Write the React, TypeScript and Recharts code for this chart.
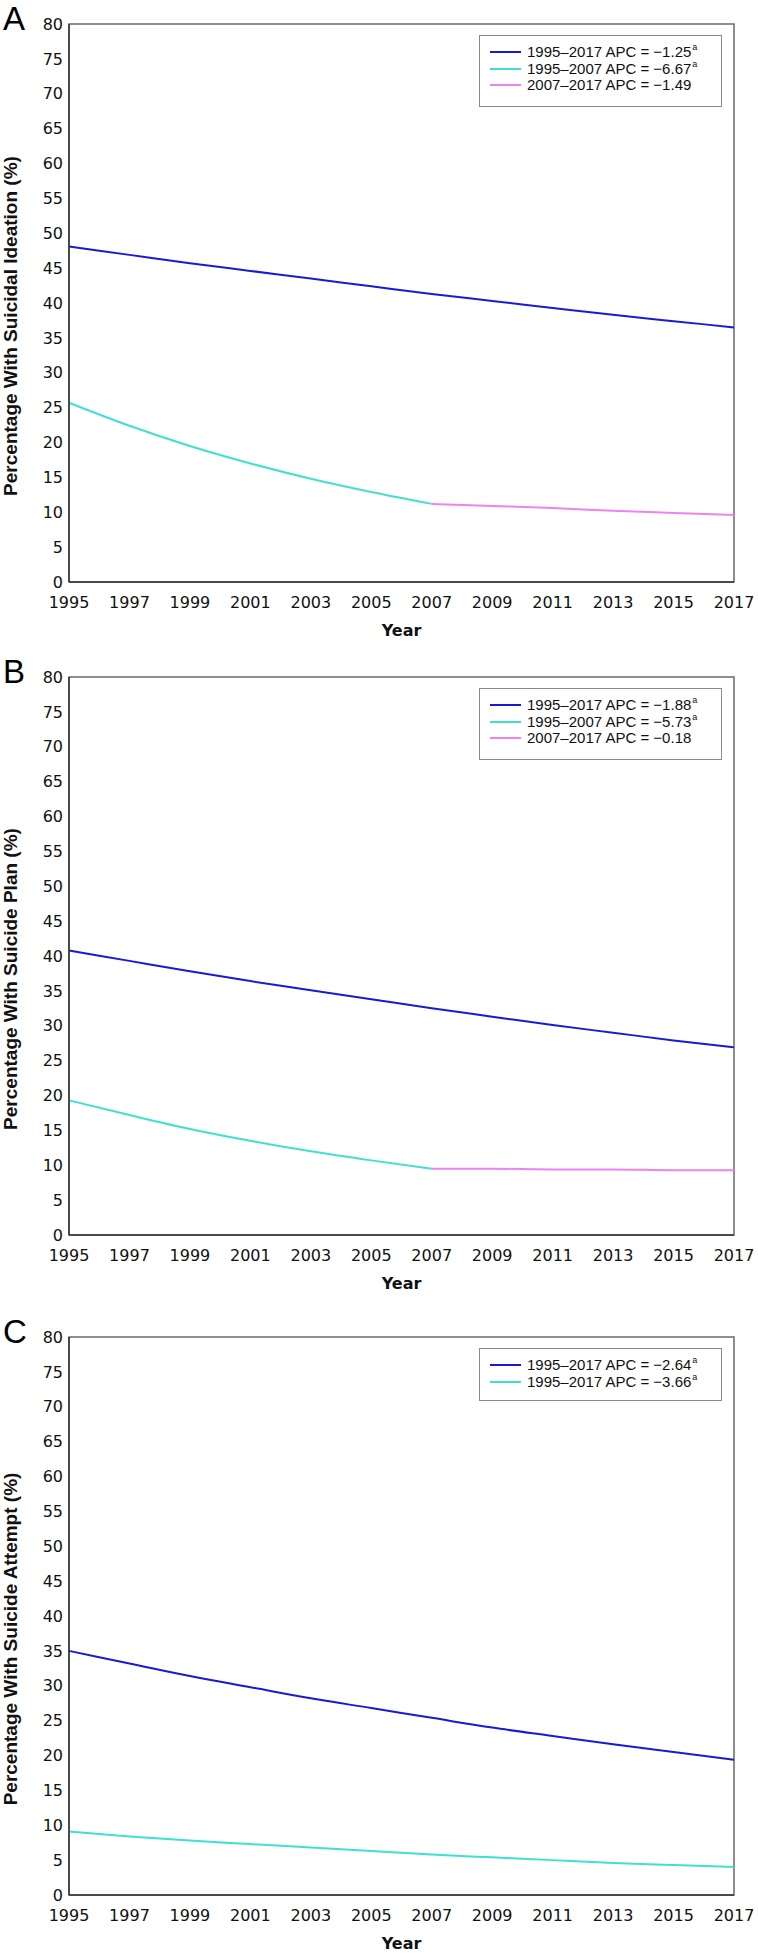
import React from 'react';
import { LineChart, Line, XAxis, YAxis, ReferenceArea } from 'recharts';

const years = [1995, 1997, 1999, 2001, 2003, 2005, 2007, 2009, 2011, 2013, 2015, 2017];
const earlyYears = [1995, 1997, 1999, 2001, 2003, 2005, 2007];
const lateYears = [2007, 2009, 2011, 2013, 2015, 2017];
const yTicks = [0, 5, 10, 15, 20, 25, 30, 35, 40, 45, 50, 55, 60, 65, 70, 75, 80];

// Panel A: suicidal ideation
const ideationOverall = [48.1, 46.9, 45.7, 44.6, 43.5, 42.4, 41.3, 40.3, 39.3, 38.3, 37.4, 36.5];
const ideationEarly = [25.7, 22.4, 19.5, 17.0, 14.8, 12.9, 11.2];
const ideationLate = [11.2, 10.9, 10.6, 10.2, 9.9, 9.6];

// Panel B: suicide plan
const planOverall = [40.8, 39.3, 37.8, 36.4, 35.1, 33.8, 32.5, 31.3, 30.1, 29.0, 27.9, 26.9];
const planEarly = [19.3, 17.2, 15.2, 13.5, 12.0, 10.7, 9.5];
const planLate = [9.5, 9.5, 9.4, 9.4, 9.3, 9.3];

// Panel C: suicide attempt
const attemptOverall = [35.0, 33.2, 31.4, 29.8, 28.2, 26.8, 25.4, 24.0, 22.8, 21.6, 20.5, 19.4];
const attemptSecond = [9.1, 8.4, 7.8, 7.3, 6.8, 6.3, 5.8, 5.4, 5.0, 4.6, 4.3, 4.0];

const labelsA = ['1995–2017 APC = −1.25', '1995–2007 APC = −6.67', '2007–2017 APC = −1.49'];
const labelsB = ['1995–2017 APC = −1.88', '1995–2007 APC = −5.73', '2007–2017 APC = −0.18'];
const labelsC = ['1995–2017 APC = −2.64', '1995–2017 APC = −3.66'];
const supA = [true, true, false];
const supB = [true, true, false];
const supC = [true, true];

const BLUE = '#1a1ad6';
const CYAN = '#40e0d0';
const PINK = '#ee82ee';

const toPoints = (xs: number[], vs: number[]) => xs.map((x, i) => ({ year: x, value: vs[i] }));

const PLOT_LEFT = 69;
const PLOT_RIGHT = 734;
const PLOT_H = 558;
const CHART_H = 640;

type Series = { data: { year: number; value: number }[]; color: string; label: string; sup: boolean };

const panels = [
  {
    letter: 'A',
    plotTop: 24,
    yLabel: 'Percentage With Suicidal Ideation (%)',
    series: [
      { data: toPoints(years, ideationOverall), color: BLUE, label: labelsA[0], sup: supA[0] },
      { data: toPoints(earlyYears, ideationEarly), color: CYAN, label: labelsA[1], sup: supA[1] },
      { data: toPoints(lateYears, ideationLate), color: PINK, label: labelsA[2], sup: supA[2] },
    ] as Series[],
  },
  {
    letter: 'B',
    plotTop: 677,
    yLabel: 'Percentage With Suicide Plan (%)',
    series: [
      { data: toPoints(years, planOverall), color: BLUE, label: labelsB[0], sup: supB[0] },
      { data: toPoints(earlyYears, planEarly), color: CYAN, label: labelsB[1], sup: supB[1] },
      { data: toPoints(lateYears, planLate), color: PINK, label: labelsB[2], sup: supB[2] },
    ] as Series[],
  },
  {
    letter: 'C',
    plotTop: 1337,
    yLabel: 'Percentage With Suicide Attempt (%)',
    series: [
      { data: toPoints(years, attemptOverall), color: BLUE, label: labelsC[0], sup: supC[0] },
      { data: toPoints(years, attemptSecond), color: CYAN, label: labelsC[1], sup: supC[1] },
    ] as Series[],
  },
];

const tickFont = { fill: '#111', fontSize: 16, fontFamily: 'DejaVu Sans' };

function Legend({ series, top }: { series: Series[]; top: number }) {
  const rowGap = 16.5;
  const height = series.length === 3 ? 72 : 53;
  return (
    <div
      style={{
        position: 'absolute',
        left: 479,
        top,
        width: 243,
        height,
        boxSizing: 'border-box',
        border: '1px solid #8a8a8a',
        background: '#fff',
      }}
    >
      {series.map((s, i) => {
        const cy = 16 + i * rowGap;
        return (
          <div key={i}>
            <div
              style={{
                position: 'absolute',
                left: 10,
                top: cy - 1,
                width: 31,
                height: 2,
                background: s.color,
              }}
            />
            <div
              style={{
                position: 'absolute',
                left: 47,
                top: cy - 9,
                height: 18,
                lineHeight: '18px',
                fontFamily: 'Liberation Sans, Arial, sans-serif',
                fontSize: 15,
                color: '#111',
                whiteSpace: 'nowrap',
              }}
            >
              {s.label}
              {s.sup ? (
                <span style={{ fontSize: 9, position: 'relative', top: -7, marginLeft: 1 }}>a</span>
              ) : null}
            </div>
          </div>
        );
      })}
    </div>
  );
}

function Panel({ p }: { p: (typeof panels)[number] }) {
  const divTop = p.plotTop - 24;
  return (
    <div style={{ position: 'absolute', left: 0, top: divTop, width: 758, height: CHART_H }}>
      <LineChart
        width={758}
        height={CHART_H}
        margin={{ top: 24, right: 758 - PLOT_RIGHT, bottom: 0, left: PLOT_LEFT - 50 }}
      >
        <ReferenceArea
          x1={1995}
          x2={2017}
          y1={0}
          y2={80}
          fill="none"
          stroke="#6a6a6a"
          strokeWidth={1.5}
          ifOverflow="visible"
        />
        <XAxis
          type="number"
          dataKey="year"
          domain={[1995, 2017]}
          ticks={years}
          interval={0}
          allowDuplicatedCategory={false}
          height={CHART_H - 24 - PLOT_H}
          tickSize={0}
          tickMargin={15}
          axisLine={{ stroke: '#333', strokeWidth: 1.5 }}
          tick={tickFont}
        />
        <YAxis
          type="number"
          domain={[0, 80]}
          ticks={yTicks}
          interval={0}
          width={50}
          tickSize={0}
          tickMargin={6}
          axisLine={{ stroke: '#333', strokeWidth: 1.5 }}
          tick={tickFont}
        />
        {p.series.map((s, i) => (
          <Line
            key={i}
            data={s.data}
            dataKey="value"
            type="monotone"
            stroke={s.color}
            strokeWidth={2}
            dot={false}
            activeDot={false}
            isAnimationActive={false}
          />
        ))}
      </LineChart>
    </div>
  );
}

export default function App() {
  return (
    <div style={{ position: 'absolute', left: 0, top: 0, width: 758, height: 1954, background: '#fff', overflow: 'hidden' }}>
      {panels.map((p, i) => (
        <Panel key={i} p={p} />
      ))}
      {panels.map((p, i) => (
        <Legend key={'l' + i} series={p.series} top={p.plotTop + 11} />
      ))}
      <svg
        width={758}
        height={1954}
        style={{ position: 'absolute', left: 0, top: 0, pointerEvents: 'none' }}
      >
        {panels.map((p, i) => {
          const cy = p.plotTop + 302;
          return (
            <g key={i}>
              <text x={3} y={p.plotTop + 6} fontFamily="Liberation Sans, Arial, sans-serif" fontSize={33} fill="#000">
                {p.letter}
              </text>
              <text
                x={16.5}
                y={cy}
                transform={`rotate(-90 16.5 ${cy})`}
                textAnchor="middle"
                fontFamily="Liberation Sans, Arial, sans-serif"
                fontWeight="bold"
                fontSize={19}
                fill="#111"
              >
                {p.yLabel}
              </text>
              <text
                x={(PLOT_LEFT + PLOT_RIGHT) / 2}
                y={p.plotTop + PLOT_H + 54}
                textAnchor="middle"
                fontFamily="DejaVu Sans, Verdana, sans-serif"
                fontWeight="bold"
                fontSize={16}
                fill="#111"
              >
                Year
              </text>
            </g>
          );
        })}
      </svg>
    </div>
  );
}
